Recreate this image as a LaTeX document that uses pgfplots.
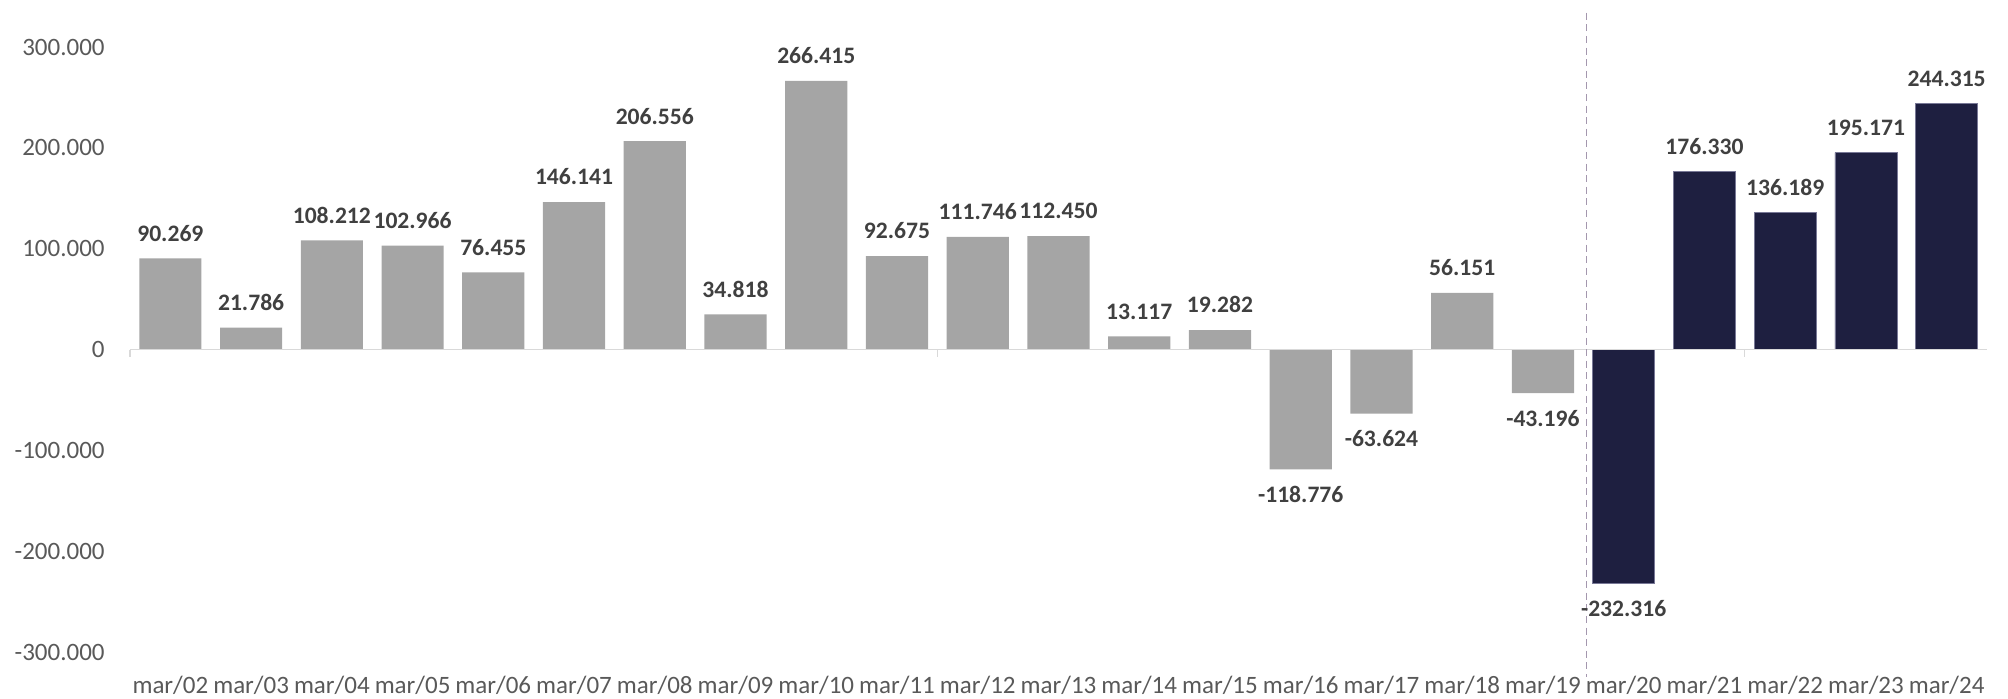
\documentclass[border=0pt]{standalone}
\usepackage{fontspec}
\setmainfont{Carlito}
\usepackage{pgfplots}
\pgfplotsset{compat=1.18}

\definecolor{barGray}{HTML}{A5A5A5}
\definecolor{barNavy}{HTML}{1E1F40}
\definecolor{zeroLine}{HTML}{D9D9D9}
\definecolor{tickText}{HTML}{595959}
\definecolor{valText}{HTML}{404040}
\definecolor{splitLine}{HTML}{A497AE}

\begin{document}
\begin{tikzpicture}
\begin{axis}[
    name=ax,
    scale only axis,
    width=928.5pt, height=302.5pt,
    xmin=-0.5, xmax=22.5,
    ymin=-300000, ymax=300000,
    ybar, bar width=0.77, bar shift=0pt,
    axis line style={draw=none},
    tick style={draw=none},
    xtick={0,...,22},
    xticklabels={mar/02,mar/03,mar/04,mar/05,mar/06,mar/07,mar/08,mar/09,mar/10,mar/11,mar/12,
                 mar/13,mar/14,mar/15,mar/16,mar/17,mar/18,mar/19,mar/20,mar/21,mar/22,mar/23,mar/24},
    ytick={-300000,-200000,...,300000},
    scaled y ticks=false,
    /pgf/number format/fixed,
    /pgf/number format/precision=0,
    /pgf/number format/1000 sep={.},
    /pgf/number format/assume math mode=true,
    ticklabel style={font=\fontsize{12.5}{15}\selectfont, text=tickText, inner sep=0pt},
    xticklabel style={yshift=-7.5pt},
    yticklabel style={xshift=-12.5pt},
    nodes near coords,
    every node near coord/.append style={font=\fontsize{11.8}{14}\selectfont\bfseries,
        text=valText, inner xsep=0pt, inner ysep=8.3pt},
    clip=false,
]
% historical months
\addplot[fill=barGray, draw=none] coordinates {
    (0,90269) (1,21786) (2,108212) (3,102966) (4,76455) (5,146141)
    (6,206556) (7,34818) (8,266415) (9,92675) (10,111746) (11,112450)
    (12,13117) (13,19282) (14,-118776) (15,-63624) (16,56151) (17,-43196)
};
% projected months
\addplot[fill=barNavy, draw={rgb,255:red,120;green,120;blue,150}, line width=0.3pt] coordinates {
    (18,-232316) (19,176330) (20,136189) (21,195171) (22,244315)
};

% zero line with its ticks
\draw[zeroLine, line width=0.6pt] (axis cs:-0.5,0) -- (axis cs:22.5,0);
\draw[zeroLine, line width=0.6pt] (axis cs:-0.5,0) -- ++(0pt,-3.5pt);
\draw[zeroLine, line width=0.6pt] (axis cs:9.5,0) -- ++(0pt,-3.5pt);
\draw[zeroLine, line width=0.6pt] (axis cs:19.5,0) -- ++(0pt,-3.5pt);

% split between actual and projected
\draw[splitLine, line width=0.6pt, dash pattern=on 3.5pt off 2.3pt]
    (axis cs:17.54,334000) -- (axis cs:17.54,-325000);
\end{axis}
\pgfresetboundingbox
\path ([shift={(-65pt,-23pt)}]ax.south west) rectangle ([shift={(10.5pt,23.5pt)}]ax.north east);
\end{tikzpicture}
\end{document}
